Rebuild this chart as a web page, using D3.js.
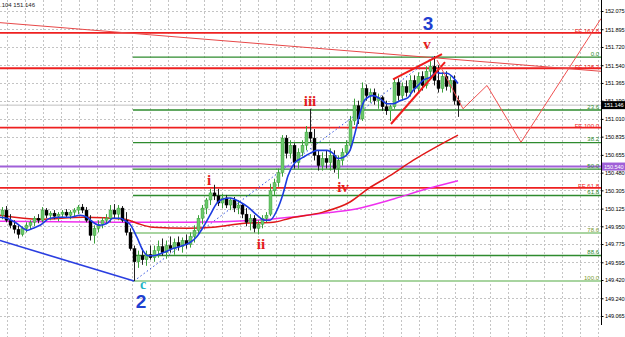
<!DOCTYPE html>
<html><head><meta charset="utf-8">
<script src="https://cdnjs.cloudflare.com/ajax/libs/d3/7.8.5/d3.min.js"></script>
<style>html,body{margin:0;padding:0;background:#fff;overflow:hidden}</style>
</head><body><svg id="c" width="625" height="337"></svg>
<script>
// ---- data ----
const opens=[150.06,150.11,150.01,149.96,149.92,149.87,149.93,149.96,149.99,150.03,150.01,150.11,150.06,150.08,150.05,150.07,150.09,150.06,150.09,150.11,150.14,150.11,150.01,149.86,149.93,149.97,150.01,150.03,150.11,150.07,150.13,150.01,149.89,149.73,149.60,149.66,149.62,149.67,149.64,149.71,149.75,149.69,149.76,149.73,149.79,149.75,149.81,149.77,149.85,149.91,150.03,150.13,150.21,150.28,150.25,150.18,150.23,150.16,150.21,150.13,150.16,150.07,149.99,150.03,149.93,149.97,150.03,150.07,150.30,150.38,150.48,150.82,150.67,150.75,150.58,150.68,150.75,150.88,150.82,150.65,150.55,150.62,150.58,150.65,150.52,150.60,150.68,150.75,150.99,151.14,151.01,151.31,151.24,151.27,151.19,151.22,151.13,151.09,151.13,151.37,151.24,151.33,151.27,151.39,151.31,151.43,151.34,151.48,151.53,151.39,151.31,151.43,151.33,151.39,151.19];
const highs=[150.14,150.15,150.07,150.01,149.96,149.95,149.99,150.01,150.05,150.07,150.14,150.13,150.10,150.11,150.09,150.11,150.12,150.11,150.13,150.16,150.17,150.14,150.06,149.96,150.01,150.04,150.07,150.16,150.17,150.16,150.15,150.09,149.93,149.76,149.71,149.73,149.71,149.76,149.76,149.81,149.83,149.81,149.85,149.83,149.85,149.84,149.87,149.89,149.96,150.06,150.16,150.23,150.32,150.36,150.32,150.27,150.26,150.23,150.24,150.21,150.18,150.13,150.07,150.06,150.01,150.06,150.09,150.37,150.42,150.52,150.85,150.85,150.80,150.77,150.72,150.80,150.94,151.11,150.91,150.70,150.68,150.70,150.72,150.70,150.65,150.72,150.80,151.04,151.21,151.19,151.37,151.35,151.31,151.31,151.26,151.24,151.19,151.15,151.41,151.41,151.37,151.39,151.44,151.44,151.47,151.48,151.53,151.58,151.63,151.54,151.47,151.48,151.43,151.44,151.24];
const lows=[150.02,149.99,149.93,149.88,149.83,149.85,149.89,149.92,149.95,149.98,149.99,150.03,150.01,150.02,150.00,150.03,150.04,150.02,150.05,150.07,150.08,149.99,149.81,149.78,149.89,149.93,149.97,149.99,150.03,150.01,149.99,149.86,149.71,149.41,149.54,149.57,149.56,149.62,149.60,149.64,149.66,149.63,149.69,149.67,149.71,149.69,149.73,149.74,149.79,149.87,149.97,150.07,150.16,150.21,150.15,150.13,150.13,150.11,150.09,150.07,150.03,149.95,149.91,149.89,149.87,149.93,149.99,150.05,150.26,150.34,150.44,150.62,150.62,150.52,150.52,150.64,150.70,150.78,150.60,150.50,150.50,150.52,150.50,150.48,150.42,150.55,150.64,150.70,150.95,150.96,150.99,151.19,151.17,151.15,151.11,151.09,151.05,150.99,151.11,151.19,151.19,151.23,151.23,151.27,151.27,151.29,151.31,151.41,151.34,151.27,151.27,151.29,151.27,151.15,151.03];
const closes=[150.11,150.01,149.96,149.92,149.87,149.93,149.96,149.99,150.03,150.01,150.11,150.06,150.08,150.05,150.07,150.09,150.06,150.09,150.11,150.14,150.11,150.01,149.86,149.93,149.97,150.01,150.03,150.11,150.07,150.13,150.01,149.89,149.73,149.60,149.66,149.62,149.67,149.64,149.71,149.75,149.69,149.76,149.73,149.79,149.75,149.81,149.77,149.85,149.91,150.03,150.13,150.21,150.28,150.25,150.18,150.23,150.16,150.21,150.13,150.16,150.07,149.99,150.03,149.93,149.97,150.03,150.06,150.30,150.38,150.48,150.82,150.67,150.75,150.58,150.68,150.75,150.88,150.82,150.65,150.55,150.62,150.58,150.65,150.52,150.60,150.68,150.75,150.99,151.14,151.01,151.31,151.24,151.27,151.19,151.22,151.13,151.09,151.13,151.37,151.24,151.33,151.27,151.39,151.31,151.43,151.34,151.48,151.53,151.39,151.31,151.43,151.33,151.39,151.19,151.146];

// fast MA (blue): [bar index, price]
const maFast=[[-0.5,150.04],[1.25,150.03],[3.25,149.99],[5,149.94],[6.25,149.91],[7.75,149.93],[9.5,149.96],[12,150.03],[14.5,150.04],[17,150.04],[19.5,150.06],[21.25,150.04],[22.75,149.99],[24.5,149.96],[26.25,149.98],[27.75,150.03],[29.5,150.03],[31,150.00],[32,149.97],[33.75,149.84],[35.25,149.71],[36.5,149.66],[37.75,149.66],[40.25,149.69],[42.75,149.73],[45.25,149.76],[47,149.79],[48.75,149.85],[50.25,149.94],[52,150.06],[53.75,150.18],[55.25,150.22],[57,150.23],[59.5,150.19],[61.5,150.14],[63.75,150.06],[65.75,150.01],[67,150.01],[68.75,150.11],[70.25,150.27],[71.5,150.45],[73.25,150.58],[75.25,150.63],[77,150.67],[78.75,150.70],[81.25,150.70],[82.75,150.67],[84,150.62],[85.25,150.63],[87,150.70],[88.25,150.87],[89.5,151.07],[90.75,151.20],[92.75,151.24],[94.5,151.21],[96.25,151.16],[97.75,151.16],[99.5,151.19],[101.5,151.22],[102.75,151.29],[104,151.34],[105.25,151.39],[107,151.42],[108.75,151.47],[109.5,151.46],[111.25,151.46],[112.75,151.42],[114,151.36]];
// slow MA (red)
const maSlow=[[-0.5,150.06],[9.5,150.02],[20.25,150.04],[30.75,150.02],[33.75,149.98],[37.75,149.94],[46.25,149.93],[52.75,149.94],[60.75,149.98],[67.75,149.99],[72,150.03],[80.25,150.09],[87,150.19],[91.5,150.32],[97,150.45],[102.75,150.60],[114,150.85]];
// mid MA (magenta)
const maMid=[[-0.5,150.00],[30.75,149.99],[47,149.99],[63.75,150.01],[72,150.04],[80.25,150.08],[87,150.11],[97,150.21],[106.25,150.32],[114,150.40]];

const priceTicks=[152.075,151.895,151.720,151.540,151.365,151.190,151.010,150.835,150.655,150.480,150.305,150.125,149.950,149.775,149.595,149.420,149.240,149.065];

const fibLabels=["0.0","23.6","38.2","50.0","61.8","78.6","88.6","100.0"];
const fibPrices=[151.620,151.098,150.776,150.515,150.254,149.883,149.662,149.410];
const fibPale=[false,false,false,false,false,true,false,true];
const feLabels=["FE 161.8","FE 138.2","FE 100.0","FE 61.8"];
const fePrices=[151.86,151.51,150.925,150.33];
const purpleLevel=150.540;
const bidPrice=151.146;

const waveLineBlue=[[-0.5,149.81],[33,149.41]];
const waveDotted=[[33,149.41],[108,151.63]];
const wedgeUpper=[[97.75,151.40],[110,151.65]];
const wedgeLower=[[97.25,150.96],[110.75,151.57]];
const topTrend=[[-0.5,151.96],[149.75,151.48]];
const projection=[[108.75,151.59],[115.25,151.11],[121.25,151.34],[129.75,150.78],[149.75,152.00]];

const waveTexts=["3","v","iii","i","ii","iv","c","2"];
const waveIdx=[106.5,106.25,77,51.75,64.75,85.25,35.25,34.75];
const wavePrice=[151.888,151.70,151.137,150.358,149.726,150.289,149.335,149.140];

// ---- drawing ----
const W=625,H=337,PR=601;
const svg=d3.select("#c");
const x=d3.scaleLinear().domain([0,114]).range([2,458]);
const y=d3.scaleLinear().domain([149.065,152.075]).range([316,11]);

svg.append("defs").append("clipPath").attr("id","clip").append("rect").attr("x",0).attr("y",0).attr("width",PR).attr("height",H);
const g=svg.append("g").attr("clip-path","url(#clip)");

// grid
const grid=g.append("g");
grid.selectAll("line.h").data(priceTicks).enter().append("line")
  .attr("x1",0).attr("x2",PR).attr("y1",d=>Math.round(y(d))+0.5).attr("y2",d=>Math.round(y(d))+0.5)
  .attr("stroke","#c4c4c4").attr("stroke-dasharray","2,2");
const vg=d3.range(0,34).map(k=>7.1+17.9*k).filter(v=>v<PR);
grid.selectAll("line.v").data(vg).enter().append("line")
  .attr("x1",d=>Math.round(d)+0.5).attr("x2",d=>Math.round(d)+0.5).attr("y1",0).attr("y2",H)
  .attr("stroke","#c4c4c4").attr("stroke-dasharray","2,2");

const line=d3.line().x(d=>x(d[0])).y(d=>y(d[1]));
const smooth=d3.line().x(d=>x(d[0])).y(d=>y(d[1])).curve(d3.curveMonotoneX);

// horizontal levels
g.append("line").attr("x1",0).attr("x2",PR).attr("y1",y(bidPrice)).attr("y2",y(bidPrice)).attr("stroke","#c0c0c0").attr("stroke-width",1);
fibPrices.forEach((p,i)=>{
  g.append("line").attr("x1",x(33)-1).attr("x2",PR).attr("y1",y(p)).attr("y2",y(p))
   .attr("stroke",fibPale[i]?"#a8d4a0":"#2e8b2e").attr("stroke-width",fibPale[i]?2:1.3);
});
fePrices.forEach(p=>{
  g.append("line").attr("x1",0).attr("x2",PR).attr("y1",y(p)).attr("y2",y(p)).attr("stroke","#ee2020").attr("stroke-width",1.8);
});
g.append("line").attr("x1",0).attr("x2",PR).attr("y1",y(purpleLevel)).attr("y2",y(purpleLevel)).attr("stroke","#a060d8").attr("stroke-width",2);

// trend lines
g.append("path").attr("d",line(topTrend)).attr("fill","none").attr("stroke","#e84848").attr("stroke-width",1);
g.append("path").attr("d",line(waveLineBlue)).attr("fill","none").attr("stroke","#2a3ee0").attr("stroke-width",1.6);
g.append("path").attr("d",line(waveDotted)).attr("fill","none").attr("stroke","#3050e0").attr("stroke-width",1).attr("stroke-dasharray","1.5,2.5");

// moving averages
g.append("path").attr("d",smooth(maMid)).attr("fill","none").attr("stroke","#ee30ee").attr("stroke-width",1.5);
g.append("path").attr("d",smooth(maSlow)).attr("fill","none").attr("stroke","#e01818").attr("stroke-width",1.5);

// candles
const cg=g.append("g");
closes.forEach((c,i)=>{
  const o=opens[i],hi=highs[i],lo=lows[i];
  const up=c>=o;
  const cx=Math.round(x(i));
  const col=up?"#2f9a2f":"#000";
  cg.append("line").attr("x1",cx+0.5).attr("x2",cx+0.5).attr("y1",y(hi)).attr("y2",y(lo)).attr("stroke",up?"#3aa03a":"#222").attr("stroke-width",1);
  const t=y(Math.max(o,c)),b=y(Math.min(o,c));
  cg.append("rect").attr("x",cx-1).attr("y",t).attr("width",3).attr("height",Math.max(1,b-t))
    .attr("fill",up?"#6cc86c":"#000").attr("stroke",col).attr("stroke-width",0.4);
});

g.append("path").attr("d",smooth(maFast)).attr("fill","none").attr("stroke","#1c3ce0").attr("stroke-width",1.6);

// wedge and projection
g.append("path").attr("d",line(wedgeUpper)).attr("fill","none").attr("stroke","#f01c1c").attr("stroke-width",2);
g.append("path").attr("d",line(wedgeLower)).attr("fill","none").attr("stroke","#f01c1c").attr("stroke-width",2);
g.append("path").attr("d",line(projection)).attr("fill","none").attr("stroke","#f05050").attr("stroke-width",1);

// level labels
const lf="Liberation Sans, Arial, sans-serif";
fibPrices.forEach((p,i)=>{
  g.append("text").attr("x",599).attr("y",y(p)-1.2).attr("text-anchor","end").attr("font-family",lf).attr("font-size",6)
   .attr("fill",fibPale[i]?"#7a9a30":"#2e8b2e").text(fibLabels[i]);
});
fePrices.forEach((p,i)=>{
  g.append("text").attr("x",599).attr("y",y(p)+0.5).attr("text-anchor","end").attr("font-family",lf).attr("font-size",6)
   .attr("fill","#ee2020").text(feLabels[i]);
});

// wave labels
waveTexts.forEach((t,i)=>{
  const big=(t==="3"||t==="2");
  const col=big?"#1f3fd0":(t==="c"?"#22b4c4":"#e41c1c");
  svg.append("text").attr("x",x(waveIdx[i])).attr("y",y(wavePrice[i])).attr("text-anchor","middle")
    .attr("font-family",big?"Liberation Sans, Arial, sans-serif":"Liberation Serif, Times New Roman, serif")
    .attr("font-weight","bold").attr("font-size",big?19:(t==="c"?14:15)).attr("fill",col).text(t);
});

// header
svg.append("text").attr("x",0).attr("y",7).attr("font-family",lf).attr("font-size",6).attr("fill","#222").text(".104 151.146");

// price axis
svg.append("rect").attr("x",PR).attr("y",0).attr("width",W-PR).attr("height",H).attr("fill","#fff");
const ax=svg.append("g").attr("transform",`translate(${PR+0.5},0)`)
  .call(d3.axisRight(y).tickValues(priceTicks).tickFormat(d3.format(".3f")).tickSize(2).tickPadding(1.5));
ax.select(".domain").remove();
ax.selectAll("text").attr("font-family",lf).attr("font-size",5.6).attr("letter-spacing","-0.1px").attr("fill","#000");
svg.append("line").attr("x1",PR+0.5).attr("x2",PR+0.5).attr("y1",0).attr("y2",325).attr("stroke","#000");

function tag(p,bg,fg){
  const yy=y(p);
  svg.append("rect").attr("x",PR+1).attr("y",yy-4).attr("width",W-PR-1).attr("height",8).attr("fill",bg);
  svg.append("text").attr("x",PR+3).attr("y",yy+2).attr("font-family",lf).attr("font-size",5.6).attr("letter-spacing","-0.1px").attr("fill",fg).text(d3.format(".3f")(p));
}
tag(purpleLevel,"#a060d8","#fff");
tag(bidPrice,"#000","#fff");
</script></body></html>
